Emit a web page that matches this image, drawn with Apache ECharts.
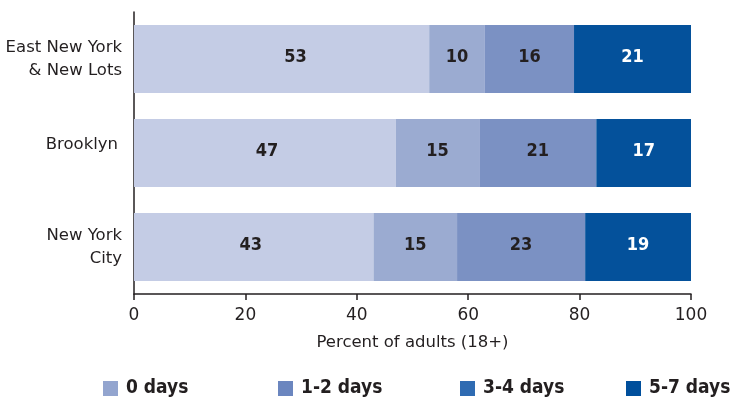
<!DOCTYPE html>
<html>
<head>
<meta charset="utf-8">
<script src="https://cdn.jsdelivr.net/npm/echarts@6/dist/echarts.min.js"></script>
<style>
  html, body { margin: 0; padding: 0; background: #fff; }
  #chart { width: 733px; height: 398px; }
</style>
</head>
<body>
<div id="chart"></div>
<script>
// Areas, top to bottom
const areas = ['East New York\n& New Lots', 'Brooklyn', 'New York\nCity'];

// Share of adults by number of days, per area (percent)
const days0 = [53, 47, 43];
const days12 = [10, 15, 15];
const days34 = [16, 21, 23];
const days57 = [21, 17, 19];

const seriesNames = ['0 days', '1-2 days', '3-4 days', '5-7 days'];
const seriesValues = [days0, days12, days34, days57];

// Styling
const barColors = ['#c4cce5', '#9babd1', '#7b91c3', '#04519b'];
const legendColors = ['#93a5cf', '#6b86bf', '#2f6bb2', '#004f9c'];
const labelColors = ['#231f20', '#231f20', '#231f20', '#ffffff'];
const legendLefts = [103, 278, 460, 626];
// horizontal nudges for the labels of the widest segments
const firstSegmentNudge = [14, 2, -3];

const xTicks = [0, 20, 40, 60, 80, 100];

const ink = '#231f20';
const chart = echarts.init(document.getElementById('chart'));

chart.setOption({
  animation: false,
  textStyle: { fontFamily: 'DejaVu Sans' },
  grid: { left: 134, right: 42, top: 12, bottom: 104, containLabel: false },
  xAxis: {
    type: 'value',
    min: xTicks[0],
    max: xTicks[xTicks.length - 1],
    interval: 20,
    name: 'Percent of adults (18+)',
    nameLocation: 'middle',
    nameGap: 40,
    nameTextStyle: { color: ink, fontSize: 16.5, fontFamily: 'DejaVu Sans' },
    axisLine: { show: true, lineStyle: { color: ink, width: 1.5 } },
    axisTick: { show: true, length: 6, lineStyle: { color: ink, width: 1.5 } },
    axisLabel: { color: ink, fontSize: 17, margin: 13, fontFamily: 'DejaVu Sans' },
    splitLine: { show: false }
  },
  yAxis: {
    type: 'category',
    data: areas,
    inverse: true,
    axisLine: { show: true, lineStyle: { color: ink, width: 1.5 } },
    axisTick: { show: false },
    axisLabel: {
      color: ink, fontSize: 16.5, lineHeight: 23, margin: 12, align: 'right', fontFamily: 'DejaVu Sans',
      // the single-line label sits a little higher and further left
      formatter: (v) => (v.indexOf('\n') < 0 ? '{single|' + v + '}' : v),
      rich: {
        single: { fontSize: 16.5, color: ink, fontFamily: 'DejaVu Sans', padding: [0, 4, 16, 0] }
      }
    }
  },
  legend: seriesNames.map((name, i) => ({
    left: legendLefts[i],
    top: 379,
    padding: 0,
    orient: 'horizontal',
    itemWidth: 15,
    itemHeight: 15,
    itemGap: 6,
    icon: 'rect',
    selectedMode: false,
    textStyle: { color: ink, fontSize: 19, fontWeight: 'bold', fontFamily: 'DejaVu Sans Condensed', padding: [0, 0, 0, 3] },
    data: [{ name: name, itemStyle: { color: legendColors[i] } }]
  })),
  series: seriesNames.map((name, i) => ({
    name: name,
    type: 'bar',
    stack: 'total',
    barCategoryGap: '27.7%',
    data: seriesValues[i].map((v, j) => ({
      value: v,
      label: { offset: [i === 0 ? firstSegmentNudge[j] : 0, -2] }
    })),
    itemStyle: { color: barColors[i] },
    label: {
      show: true,
      position: 'inside',
      color: labelColors[i],
      fontSize: 18,
      fontWeight: 'bold',
      fontFamily: 'DejaVu Sans Condensed'
    }
  }))
});
</script>
</body>
</html>
